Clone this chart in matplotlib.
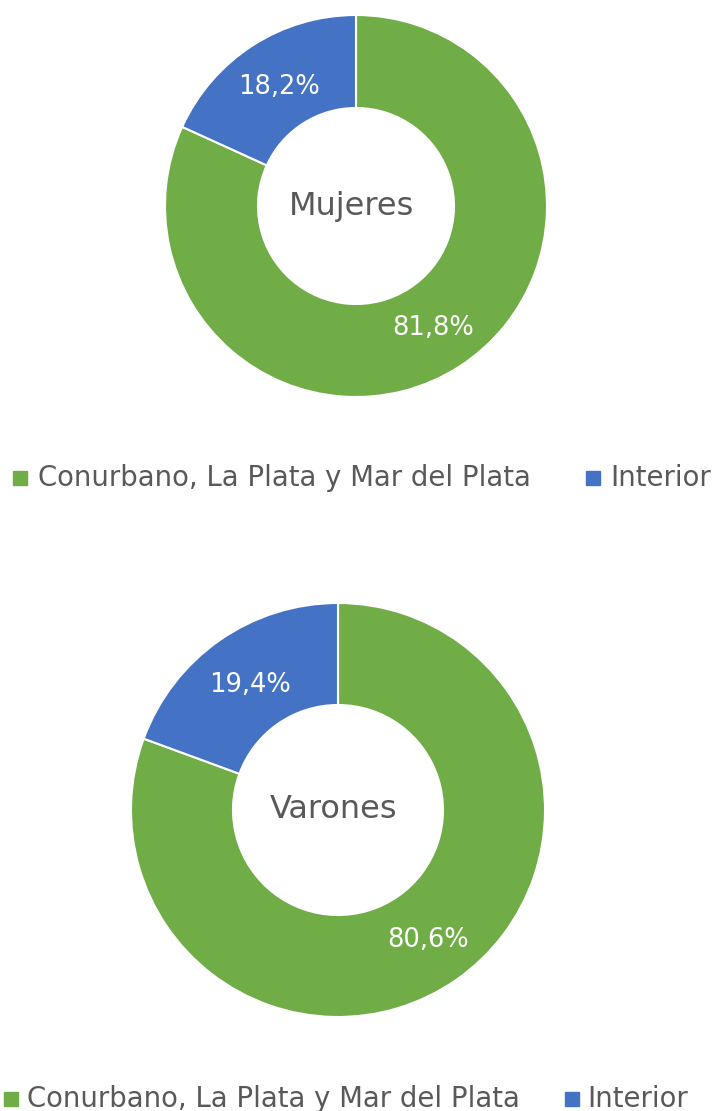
import matplotlib
matplotlib.use("Agg")
import matplotlib.pyplot as plt
from matplotlib.patches import Rectangle

categories = ["Conurbano, La Plata y Mar del Plata", "Interior"]
mujeres = [81.8, 18.2]
varones = [80.6, 19.4]
titles = ["Mujeres", "Varones"]
colors = ["#70AD47", "#4472C4"]
FONT = "DejaVu Sans"
GRAY = "#595959"

W, H = 712, 1111
fig = plt.figure(figsize=(W / 100, H / 100), dpi=100)
ax = fig.add_axes([0, 0, 1, 1])

def donut(values, title, cx, cy, R, r, label_pos):
    wedges, _ = ax.pie(values, colors=colors, startangle=90, counterclock=False,
                       center=(cx, H - cy), radius=R,
                       wedgeprops=dict(width=R - r, edgecolor="white", linewidth=1.5))
    ax.text(cx - 4, H - cy, title, ha="center", va="center", fontsize=23,
            color=GRAY, family=FONT)
    for v, (lx, ly) in zip(values, label_pos):
        ax.text(lx, H - ly, f"{v:.1f}".replace(".", ",") + "%", ha="center",
                va="center", fontsize=18.5, color="white", family=FONT)

def legend(y, gx, tx, bx, ix):
    for c, sx, txx, lab in zip(colors, [gx, bx], [tx, ix], categories):
        ax.add_patch(Rectangle((sx, H - y - 7), 14, 14, color=c))
        ax.text(txx, H - y, lab, ha="left", va="center", fontsize=19.8,
                color=GRAY, family=FONT)

donut(mujeres, titles[0], 356, 206, 191, 98, [(433, 328), (279, 87)])
legend(478, 13, 38, 586, 610)
donut(varones, titles[1], 338, 810, 207, 105, [(428, 940), (250, 685)])
legend(1099, 4, 27, 565, 587)

ax.set_xlim(0, W)
ax.set_ylim(0, H)
ax.set_aspect("equal")
ax.axis("off")

fig.savefig("out.png", dpi=100, facecolor="white")
